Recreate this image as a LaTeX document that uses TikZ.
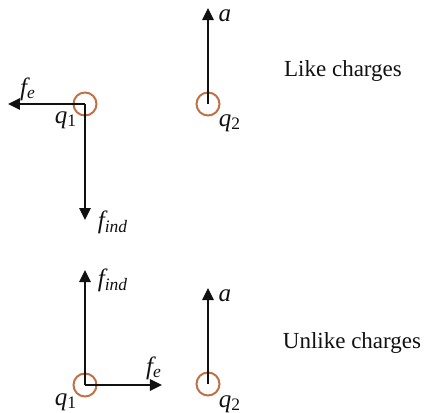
\documentclass[tikz,border=0pt]{standalone}
\usepackage{fontspec}
\setmainfont{Liberation Serif}
\usetikzlibrary{arrows.meta}
\definecolor{chgRing}{HTML}{C0714A}
\definecolor{chgDark}{HTML}{111111}
\tikzset{
  charge/.style={circle, draw=chgRing, line width=1pt, minimum size=11.5pt, inner sep=0pt},
  force/.style={chgDark, line width=1.25pt, -{Triangle[length=6pt,width=5.5pt]}},
  lbl/.style={chgDark, inner sep=0pt, font=\fontsize{12.5}{14}\selectfont},
}
\newcommand{\chgFe}{$\mathit{f}_{\mathit{e}}$}
\newcommand{\chgFind}{$\mathit{f}_{\mathit{ind}}$}

\begin{document}
\begin{tikzpicture}[x=0.5pt, y=-0.5pt, line cap=butt, line join=miter]
  \useasboundingbox (0,0) rectangle (425,413);

  % ===== Top: like charges =====
  \node[charge] (q1top) at (85,104) {};
  \node[charge] (q2top) at (208,104) {};
  \coordinate (fetop) at (8,104);
  \coordinate (findtop) at (85,220);
  \coordinate (atop) at (208,8);
  \draw[force] (q1top.center) -- (fetop);
  \draw[force] (q1top.center) -- (findtop);
  \draw[force] (q2top.center) -- (atop);
  \node[lbl] (lfetop) at (28,89) {\chgFe};
  \node[lbl] (lq1top) at (66,120) {$\mathit{q}_{\mathrm{1}}$};
  \node[lbl] (lfindtop) at (113,222) {\chgFind};
  \node[lbl] (latop) at (225,16) {$\mathit{a}$};
  \node[lbl] (lq2top) at (230,123) {$\mathit{q}_{\mathrm{2}}$};
  \node[lbl, font=\fontsize{11.5}{13}\selectfont] (liketxt) at (343,71) {Like charges};

  % ===== Bottom: unlike charges =====
  \node[charge] (q1bot) at (85,385) {};
  \node[charge] (q2bot) at (208,384) {};
  \coordinate (febot) at (162,385);
  \coordinate (findbot) at (85,270);
  \coordinate (abot) at (208,288);
  \draw[force] (q1bot.center) -- (findbot);
  \draw[force] (q1bot.center) -- (febot);
  \draw[force] (q2bot.center) -- (abot);
  \node[lbl] (lfindbot) at (113,280) {\chgFind};
  \node[lbl] (lfebot) at (154,368) {\chgFe};
  \node[lbl] (lq1bot) at (66,402) {$\mathit{q}_{\mathrm{1}}$};
  \node[lbl] (labot) at (225,296) {$\mathit{a}$};
  \node[lbl] (lq2bot) at (230,404) {$\mathit{q}_{\mathrm{2}}$};
  \node[lbl, font=\fontsize{11.5}{13}\selectfont] (unliketxt) at (352,343) {Unlike charges};
\end{tikzpicture}
\end{document}
